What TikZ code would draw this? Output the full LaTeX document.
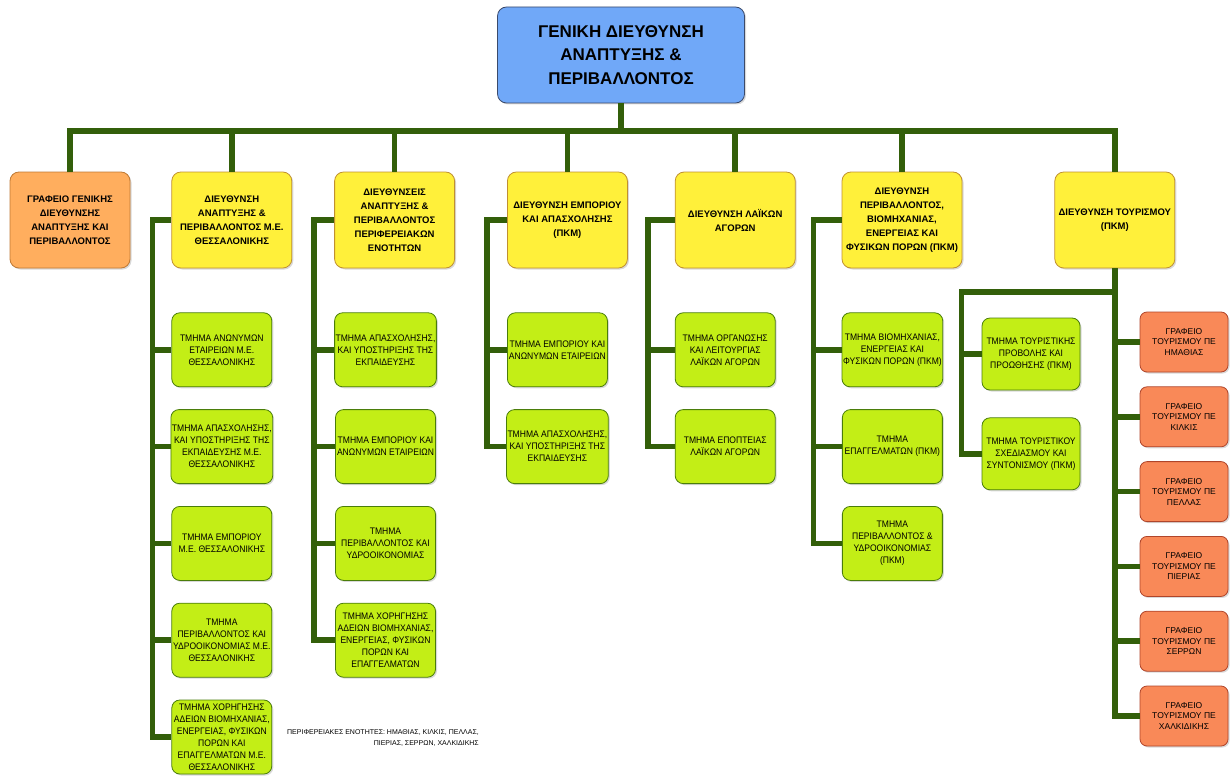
\documentclass[tikz,border=0pt]{standalone}
\usepackage{fontspec}
\setmainfont{Liberation Sans}
\newfontfamily\narrowfont[FakeStretch=0.9]{Liberation Sans}
\usetikzlibrary{positioning,calc,shadows}
\definecolor{treegreen}{HTML}{335F0A}
\definecolor{topblue}{HTML}{70A8F8}
\definecolor{topedge}{HTML}{3B4A6B}
\definecolor{genorange}{HTML}{FFAE5E}
\definecolor{genedge}{HTML}{C07A35}
\definecolor{diryellow}{HTML}{FFF03A}
\definecolor{diredge}{HTML}{C09030}
\definecolor{deptlime}{HTML}{C3EE16}
\definecolor{deptedge}{HTML}{4A7D0A}
\definecolor{officered}{HTML}{F98958}
\definecolor{officeedge}{HTML}{B0452A}
\tikzset{
  tree/.style={line width=5.5pt, draw=treegreen},
  box/.style={rectangle, rounded corners=9pt, align=center, inner sep=1pt, line width=0.8pt,
    drop shadow={shadow xshift=1.5pt, shadow yshift=-1.5pt, opacity=.3}},
  topbox/.style={box, fill=topblue, draw=topedge, minimum width=247pt, minimum height=96pt,
    font=\bfseries\fontsize{17}{23.5}\selectfont},
  headbox/.style={box, minimum width=120pt, minimum height=96pt,
    font=\bfseries\fontsize{9.5}{14}\selectfont},
  dirbox/.style={headbox, fill=diryellow, draw=diredge},
  deptbox/.style={box, rounded corners=8pt, fill=deptlime, draw=deptedge, minimum width=100pt,
    minimum height=74pt, font=\narrowfont\fontsize{9.5}{12}\selectfont},
  officebox/.style={box, rounded corners=7pt, fill=officered, draw=officeedge, minimum width=88pt,
    minimum height=60pt, font=\fontsize{8.5}{10.5}\selectfont}
}
\begin{document}
\begin{tikzpicture}[x=1pt,y=1pt]
  \useasboundingbox (0,0) rectangle (1230,-781);

  \node[topbox] (top) at (621,-55) {ΓΕΝΙΚΗ ΔΙΕΥΘΥΝΣΗ\\ΑΝΑΠΤΥΞΗΣ \&\\ΠΕΡΙΒΑΛΛΟΝΤΟΣ};

  % directorates
  \node[headbox, fill=genorange, draw=genedge] (h1) at (70,-220) {ΓΡΑΦΕΙΟ ΓΕΝΙΚΗΣ\\ΔΙΕΥΘΥΝΣΗΣ\\ΑΝΑΠΤΥΞΗΣ ΚΑΙ\\ΠΕΡΙΒΑΛΛΟΝΤΟΣ};
  \node[dirbox] (h2) [right=41pt of h1] {ΔΙΕΥΘΥΝΣΗ\\ΑΝΑΠΤΥΞΗΣ \&\\ΠΕΡΙΒΑΛΛΟΝΤΟΣ Μ.Ε.\\ΘΕΣΣΑΛΟΝΙΚΗΣ};
  \node[dirbox] (h3) [right=42pt of h2] {ΔΙΕΥΘΥΝΣΕΙΣ\\ΑΝΑΠΤΥΞΗΣ \&\\ΠΕΡΙΒΑΛΛΟΝΤΟΣ\\ΠΕΡΙΦΕΡΕΙΑΚΩΝ\\ΕΝΟΤΗΤΩΝ};
  \node[dirbox] (h4) [right=52pt of h3] {ΔΙΕΥΘΥΝΣΗ ΕΜΠΟΡΙΟΥ\\ΚΑΙ ΑΠΑΣΧΟΛΗΣΗΣ\\(ΠΚΜ)};
  \node[dirbox] (h5) [right=47pt of h4] {ΔΙΕΥΘΥΝΣΗ ΛΑΪΚΩΝ\\ΑΓΟΡΩΝ};
  \node[dirbox] (h6) [right=46pt of h5] {ΔΙΕΥΘΥΝΣΗ\\ΠΕΡΙΒΑΛΛΟΝΤΟΣ,\\ΒΙΟΜΗΧΑΝΙΑΣ,\\ΕΝΕΡΓΕΙΑΣ ΚΑΙ\\ΦΥΣΙΚΩΝ ΠΟΡΩΝ (ΠΚΜ)};
  \node[dirbox] (h7) [right=92pt of h6] {ΔΙΕΥΘΥΝΣΗ ΤΟΥΡΙΣΜΟΥ\\(ΠΚΜ)};

  % departments, Thessaloniki
  \node[deptbox] (c21) [below right=44pt and 0pt of h2.south west] {ΤΜΗΜΑ ΑΝΩΝΥΜΩΝ\\ΕΤΑΙΡΕΙΩΝ Μ.Ε.\\ΘΕΣΣΑΛΟΝΙΚΗΣ};
  \node[deptbox] (c22) [below=22pt of c21] {ΤΜΗΜΑ ΑΠΑΣΧΟΛΗΣΗΣ,\\ΚΑΙ ΥΠΟΣΤΗΡΙΞΗΣ ΤΗΣ\\ΕΚΠΑΙΔΕΥΣΗΣ Μ.Ε.\\ΘΕΣΣΑΛΟΝΙΚΗΣ};
  \node[deptbox] (c23) [below=22pt of c22] {ΤΜΗΜΑ ΕΜΠΟΡΙΟΥ\\Μ.Ε. ΘΕΣΣΑΛΟΝΙΚΗΣ};
  \node[deptbox] (c24) [below=22pt of c23] {ΤΜΗΜΑ\\ΠΕΡΙΒΑΛΛΟΝΤΟΣ ΚΑΙ\\ΥΔΡΟΟΙΚΟΝΟΜΙΑΣ Μ.Ε.\\ΘΕΣΣΑΛΟΝΙΚΗΣ};
  \node[deptbox] (c25) [below=22pt of c24] {ΤΜΗΜΑ ΧΟΡΗΓΗΣΗΣ\\ΑΔΕΙΩΝ ΒΙΟΜΗΧΑΝΙΑΣ,\\ΕΝΕΡΓΕΙΑΣ, ΦΥΣΙΚΩΝ\\ΠΟΡΩΝ ΚΑΙ\\ΕΠΑΓΓΕΛΜΑΤΩΝ Μ.Ε.\\ΘΕΣΣΑΛΟΝΙΚΗΣ};

  % departments, regional units
  \node[deptbox] (c31) [below right=44pt and 0pt of h3.south west] {ΤΜΗΜΑ ΑΠΑΣΧΟΛΗΣΗΣ,\\ΚΑΙ ΥΠΟΣΤΗΡΙΞΗΣ ΤΗΣ\\ΕΚΠΑΙΔΕΥΣΗΣ};
  \node[deptbox] (c32) [below=22pt of c31] {ΤΜΗΜΑ ΕΜΠΟΡΙΟΥ ΚΑΙ\\ΑΝΩΝΥΜΩΝ ΕΤΑΙΡΕΙΩΝ};
  \node[deptbox] (c33) [below=22pt of c32] {ΤΜΗΜΑ\\ΠΕΡΙΒΑΛΛΟΝΤΟΣ ΚΑΙ\\ΥΔΡΟΟΙΚΟΝΟΜΙΑΣ};
  \node[deptbox] (c34) [below=22pt of c33] {ΤΜΗΜΑ ΧΟΡΗΓΗΣΗΣ\\ΑΔΕΙΩΝ ΒΙΟΜΗΧΑΝΙΑΣ,\\ΕΝΕΡΓΕΙΑΣ, ΦΥΣΙΚΩΝ\\ΠΟΡΩΝ ΚΑΙ\\ΕΠΑΓΓΕΛΜΑΤΩΝ};

  \node[deptbox] (c41) [below right=44pt and 0pt of h4.south west] {ΤΜΗΜΑ ΕΜΠΟΡΙΟΥ ΚΑΙ\\ΑΝΩΝΥΜΩΝ ΕΤΑΙΡΕΙΩΝ};
  \node[deptbox] (c42) [below=22pt of c41] {ΤΜΗΜΑ ΑΠΑΣΧΟΛΗΣΗΣ,\\ΚΑΙ ΥΠΟΣΤΗΡΙΞΗΣ ΤΗΣ\\ΕΚΠΑΙΔΕΥΣΗΣ};

  \node[deptbox] (c51) [below right=44pt and 0pt of h5.south west] {ΤΜΗΜΑ ΟΡΓΑΝΩΣΗΣ\\ΚΑΙ ΛΕΙΤΟΥΡΓΙΑΣ\\ΛΑΪΚΩΝ ΑΓΟΡΩΝ};
  \node[deptbox] (c52) [below=22pt of c51] {ΤΜΗΜΑ ΕΠΟΠΤΕΙΑΣ\\ΛΑΪΚΩΝ ΑΓΟΡΩΝ};

  \node[deptbox] (c61) [below right=44pt and 0pt of h6.south west] {ΤΜΗΜΑ ΒΙΟΜΗΧΑΝΙΑΣ,\\ΕΝΕΡΓΕΙΑΣ ΚΑΙ\\ΦΥΣΙΚΩΝ ΠΟΡΩΝ (ΠΚΜ)};
  \node[deptbox] (c62) [below=22pt of c61] {ΤΜΗΜΑ\\ΕΠΑΓΓΕΛΜΑΤΩΝ (ΠΚΜ)};
  \node[deptbox] (c63) [below=22pt of c62] {ΤΜΗΜΑ\\ΠΕΡΙΒΑΛΛΟΝΤΟΣ \&\\ΥΔΡΟΟΙΚΟΝΟΜΙΑΣ\\(ΠΚΜ)};

  % tourism
  \node[deptbox, minimum width=98pt, minimum height=72pt] (t1) at (1031,-354) {ΤΜΗΜΑ ΤΟΥΡΙΣΤΙΚΗΣ\\ΠΡΟΒΟΛΗΣ ΚΑΙ\\ΠΡΟΩΘΗΣΗΣ (ΠΚΜ)};
  \node[deptbox, minimum width=98pt, minimum height=72pt] (t2) [below=27pt of t1] {ΤΜΗΜΑ ΤΟΥΡΙΣΤΙΚΟΥ\\ΣΧΕΔΙΑΣΜΟΥ ΚΑΙ\\ΣΥΝΤΟΝΙΣΜΟΥ (ΠΚΜ)};

  \node[officebox] (o1) at (1184,-342) {ΓΡΑΦΕΙΟ\\ΤΟΥΡΙΣΜΟΥ ΠΕ\\ΗΜΑΘΙΑΣ};
  \node[officebox] (o2) [below=14pt of o1] {ΓΡΑΦΕΙΟ\\ΤΟΥΡΙΣΜΟΥ ΠΕ\\ΚΙΛΚΙΣ};
  \node[officebox] (o3) [below=14pt of o2] {ΓΡΑΦΕΙΟ\\ΤΟΥΡΙΣΜΟΥ ΠΕ\\ΠΕΛΛΑΣ};
  \node[officebox] (o4) [below=14pt of o3] {ΓΡΑΦΕΙΟ\\ΤΟΥΡΙΣΜΟΥ ΠΕ\\ΠΙΕΡΙΑΣ};
  \node[officebox] (o5) [below=14pt of o4] {ΓΡΑΦΕΙΟ\\ΤΟΥΡΙΣΜΟΥ ΠΕ\\ΣΕΡΡΩΝ};
  \node[officebox] (o6) [below=14pt of o5] {ΓΡΑΦΕΙΟ\\ΤΟΥΡΙΣΜΟΥ ΠΕ\\ΧΑΛΚΙΔΙΚΗΣ};

  \node[align=right, anchor=east, inner sep=0pt, font=\fontsize{7}{11.5}\selectfont] (note) at (479,-738)
    {ΠΕΡΙΦΕΡΕΙΑΚΕΣ ΕΝΟΤΗΤΕΣ: ΗΜΑΘΙΑΣ, ΚΙΛΚΙΣ, ΠΕΛΛΑΣ,\\ΠΙΕΡΙΑΣ, ΣΕΡΡΩΝ, ΧΑΛΚΙΔΙΚΗΣ};

  % connectors
  \coordinate (bar) at (0,-131);
  \coordinate (tbar) at (0,-292);
  \draw[tree] (top.south) -- (top.south |- bar);
  \draw[tree] (h1.north) |- (h7.north |- bar) -- (h7.north);
  \foreach \n in {h2,h3,h4,h5,h6} \draw[tree] (\n.north) -- (\n.north |- bar);

  \draw[tree] (h2.west) -- ++(-19,0) |- (c25.west);
  \foreach \n in {c21,c22,c23,c24} \draw[tree] (\n.west) -- ++(-19,0);
  \draw[tree] (h3.west) -- ++(-20,0) |- (c34.west);
  \foreach \n in {c31,c32,c33} \draw[tree] (\n.west) -- ++(-20,0);
  \draw[tree] (h4.west) -- ++(-20,0) |- (c42.west);
  \draw[tree] (c41.west) -- ++(-20,0);
  \draw[tree] (h5.west) -- ++(-27,0) |- (c52.west);
  \draw[tree] (c51.west) -- ++(-27,0);
  \draw[tree] (h6.west) -- ++(-28,0) |- (c63.west);
  \foreach \n in {c61,c62} \draw[tree] (\n.west) -- ++(-28,0);

  \draw[tree] (h7.south) |- (o6.west);
  \foreach \n in {o1,o2,o3,o4,o5} \draw[tree] (\n.west) -- (\n.west -| h7.south);
  \draw[tree] (h7.south |- tbar) -| ($(t2.west)+(-20,0)$) -- (t2.west);
  \draw[tree] (t1.west) -- ++(-20,0);
\end{tikzpicture}
\end{document}
